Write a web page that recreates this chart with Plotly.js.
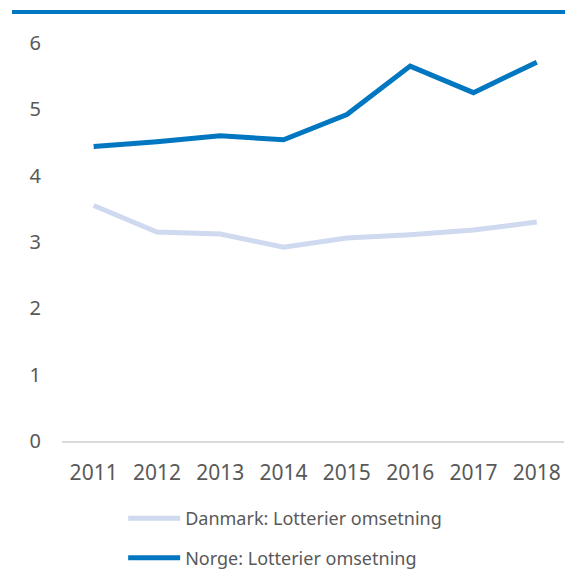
<!DOCTYPE html>
<html>
<head>
<meta charset="utf-8">
<script src="https://cdn.plot.ly/plotly-3.0.1.min.js"></script>
<style>html,body{margin:0;padding:0;background:#fff;}#chart{width:565px;height:569px;}</style>
</head>
<body>
<div id="chart"></div>
<script>
const years = [2011, 2012, 2013, 2014, 2015, 2016, 2017, 2018];
const danmark = [3.55, 3.15, 3.12, 2.92, 3.06, 3.11, 3.18, 3.30];
const norge = [4.44, 4.51, 4.60, 4.54, 4.92, 5.65, 5.25, 5.71];
const yTicks = [0, 1, 2, 3, 4, 5, 6];
const names = ["Danmark: Lotterier omsetning", "Norge: Lotterier omsetning"];

const fontFam = "Noto Sans, DejaVu Sans, sans-serif";
const grey = "#595959";

const traces = [
  {x: years, y: danmark, name: names[0], type: "scatter", mode: "lines",
   line: {color: "#CFD9F0", width: 5}, legendgroup: "a"},
  {x: years, y: norge, name: names[1], type: "scatter", mode: "lines",
   line: {color: "#0077C0", width: 5}, legendgroup: "b"}
];

const layout = {
  width: 565, height: 569,
  margin: {l: 62, r: 1, t: 23, b: 128, autoexpand: false},
  paper_bgcolor: "#fff", plot_bgcolor: "#fff",
  font: {family: fontFam, color: grey, size: 18},
  showlegend: true,
  legend: {
    orientation: "v", xref: "container", yref: "container",
    x: 0.218, xanchor: "left", y: 0.121, yanchor: "top",
    font: {size: 18, color: grey, family: fontFam},
    tracegroupgap: 13, itemwidth: 52, bgcolor: "rgba(0,0,0,0)"
  },
  xaxis: {
    type: "linear", range: [2010.5, 2018.43], tickmode: "array",
    tickvals: years, ticktext: years.map(String), tickangle: 0,
    showgrid: false, zeroline: false, showline: true,
    linecolor: "#D9D9D9", linewidth: 2,
    ticks: "outside", ticklen: 12, tickcolor: "rgba(0,0,0,0)",
    tickfont: {size: 21, color: grey, family: fontFam}, fixedrange: true,
    automargin: false
  },
  yaxis: {
    range: [0, 6.3], tickmode: "array", tickvals: yTicks,
    ticktext: yTicks.map(String),
    showgrid: false, zeroline: false, showline: false,
    ticks: "outside", ticklen: 16, tickcolor: "rgba(0,0,0,0)",
    tickfont: {size: 20, color: grey, family: fontFam}, fixedrange: true,
    automargin: false
  },
  shapes: [
    {type: "line", xref: "paper", yref: "paper",
     x0: -50/502, x1: 1.01, y0: (441 - 12) / 418, y1: (441 - 12) / 418,
     line: {color: "#0077C0", width: 4}}
  ]
};

Plotly.newPlot("chart", traces, layout, {displayModeBar: false, staticPlot: true});
</script>
</body>
</html>
